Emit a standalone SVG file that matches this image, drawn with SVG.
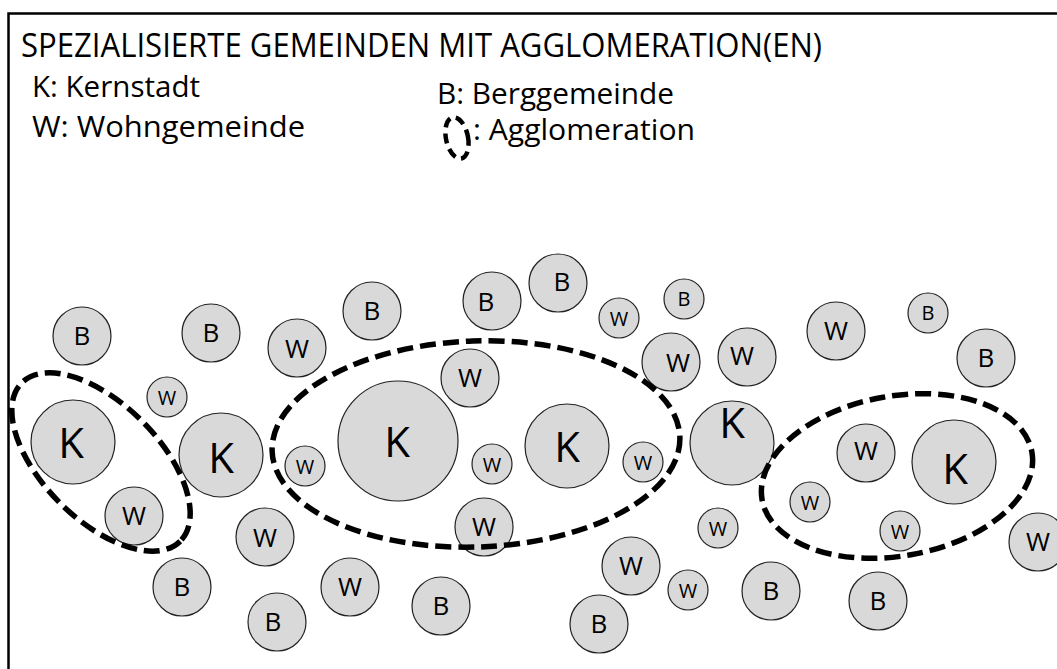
<svg xmlns="http://www.w3.org/2000/svg" width="1057" height="669" viewBox="0 0 1057 669">
<style>
text{font-family:"Open Sans","Liberation Sans",sans-serif;fill:#000;}
.n circle{fill:#d9d9d9;stroke:#222;stroke-width:1.2;}
.n text{text-anchor:middle;}
.k{font-size:42px;}
.m{font-size:26px;}
.s{font-size:20px;}
.agg{fill:none;stroke:#000;stroke-width:5.5;stroke-dasharray:16 7;}
</style>
<rect width="1057" height="669" fill="#fff"/>
<path d="M8.5,669 V13.5 H1057" fill="none" stroke="#000" stroke-width="2.5"/>
<g id="title"><text x="21" y="57" font-size="32" textLength="801" lengthAdjust="spacingAndGlyphs">SPEZIALISIERTE GEMEINDEN MIT AGGLOMERATION(EN)</text></g>
<g id="legend">
<text x="32" y="97" font-size="29" textLength="168" lengthAdjust="spacingAndGlyphs">K: Kernstadt</text>
<text x="32" y="137" font-size="29" textLength="273" lengthAdjust="spacingAndGlyphs">W: Wohngemeinde</text>
<text x="437" y="104" font-size="29" textLength="237" lengthAdjust="spacingAndGlyphs">B: Berggemeinde</text>
<ellipse cx="457" cy="138" rx="11" ry="21" transform="rotate(-12 457 138)" fill="none" stroke="#000" stroke-width="4.5" stroke-dasharray="10 6"/>
<text x="473" y="140" font-size="29" textLength="222" lengthAdjust="spacingAndGlyphs">: Agglomeration</text>
</g>
<g id="nodes">
<g id="B1" class="n"><circle cx="82" cy="336" r="29"/><text class="m" x="82" y="345">B</text></g>
<g id="B2" class="n"><circle cx="211" cy="333" r="29"/><text class="m" x="211" y="342">B</text></g>
<g id="W1" class="n"><circle cx="297" cy="348" r="29"/><text class="m" x="297" y="358">W</text></g>
<g id="B3" class="n"><circle cx="372" cy="311" r="29"/><text class="m" x="372" y="320">B</text></g>
<g id="B4" class="n"><circle cx="492" cy="301" r="29"/><text class="m" x="486" y="311">B</text></g>
<g id="B5" class="n"><circle cx="558" cy="283" r="29"/><text class="m" x="562" y="291">B</text></g>
<g id="W2s" class="n"><circle cx="619" cy="318" r="20"/><text class="s" x="619" y="326">W</text></g>
<g id="B6s" class="n"><circle cx="684" cy="299" r="20"/><text class="s" x="684" y="306">B</text></g>
<g id="W2" class="n"><circle cx="671" cy="362" r="29"/><text class="m" x="678" y="372">W</text></g>
<g id="W3" class="n"><circle cx="747" cy="357" r="29"/><text class="m" x="742" y="365">W</text></g>
<g id="W4" class="n"><circle cx="836" cy="331" r="29"/><text class="m" x="836" y="340">W</text></g>
<g id="B7s" class="n"><circle cx="928" cy="313" r="20"/><text class="s" x="928" y="320">B</text></g>
<g id="B8" class="n"><circle cx="986" cy="358" r="29"/><text class="m" x="986" y="367">B</text></g>
<g id="W3s" class="n"><circle cx="167" cy="397" r="20"/><text class="s" x="167" y="405">W</text></g>
<g id="W5" class="n"><circle cx="470" cy="378" r="29"/><text class="m" x="470" y="387">W</text></g>
<g id="K1" class="n"><circle cx="73" cy="442" r="42"/><text class="k" x="71" y="458">K</text></g>
<g id="K2" class="n"><circle cx="221" cy="455" r="42"/><text class="k" x="221" y="473">K</text></g>
<g id="W4s" class="n"><circle cx="305" cy="466" r="20"/><text class="s" x="305" y="474">W</text></g>
<g id="K3" class="n"><circle cx="398" cy="441" r="60"/><text class="k" x="397" y="457">K</text></g>
<g id="W5s" class="n"><circle cx="492" cy="464" r="20"/><text class="s" x="492" y="472">W</text></g>
<g id="K4" class="n"><circle cx="567" cy="446" r="42"/><text class="k" x="567" y="462">K</text></g>
<g id="W6s" class="n"><circle cx="643" cy="462" r="20"/><text class="s" x="643" y="470">W</text></g>
<g id="K5" class="n"><circle cx="732" cy="443" r="42"/><text class="k" x="732" y="438">K</text></g>
<g id="W6" class="n"><circle cx="866" cy="453" r="29"/><text class="m" x="866" y="460">W</text></g>
<g id="K6" class="n"><circle cx="954" cy="462" r="42"/><text class="k" x="955" y="484">K</text></g>
<g id="W7s" class="n"><circle cx="810" cy="502" r="20"/><text class="s" x="810" y="510">W</text></g>
<g id="W8s" class="n"><circle cx="900" cy="531" r="20"/><text class="s" x="900" y="539">W</text></g>
<g id="W9s" class="n"><circle cx="718" cy="528" r="20"/><text class="s" x="718" y="536">W</text></g>
<g id="W7" class="n"><circle cx="1038" cy="542" r="29"/><text class="m" x="1038" y="551">W</text></g>
<g id="W8" class="n"><circle cx="134" cy="516" r="29"/><text class="m" x="134" y="525">W</text></g>
<g id="W9" class="n"><circle cx="265" cy="537" r="29"/><text class="m" x="265" y="547">W</text></g>
<g id="W10" class="n"><circle cx="484" cy="527" r="29"/><text class="m" x="484" y="536">W</text></g>
<g id="W11" class="n"><circle cx="631" cy="566" r="29"/><text class="m" x="631" y="575">W</text></g>
<g id="W10s" class="n"><circle cx="688" cy="590" r="20"/><text class="s" x="688" y="598">W</text></g>
<g id="B9" class="n"><circle cx="182" cy="587" r="29"/><text class="m" x="182" y="596">B</text></g>
<g id="W12" class="n"><circle cx="350" cy="587" r="29"/><text class="m" x="350" y="596">W</text></g>
<g id="B10" class="n"><circle cx="441" cy="606" r="29"/><text class="m" x="441" y="615">B</text></g>
<g id="B11" class="n"><circle cx="277" cy="622" r="29"/><text class="m" x="273" y="631">B</text></g>
<g id="B12" class="n"><circle cx="599" cy="624" r="29"/><text class="m" x="599" y="633">B</text></g>
<g id="B13" class="n"><circle cx="771" cy="591" r="29"/><text class="m" x="771" y="600">B</text></g>
<g id="B14" class="n"><circle cx="878" cy="601" r="29"/><text class="m" x="878" y="610">B</text></g>
</g>
<g id="agglomerations">
<ellipse id="agg1" class="agg" cx="101" cy="462" rx="112" ry="58" transform="rotate(45 101 462)"/>
<ellipse id="agg2" class="agg" cx="476" cy="444" rx="204" ry="103" transform="rotate(-2 476 444)"/>
<ellipse id="agg3" class="agg" cx="897" cy="476" rx="137" ry="80" transform="rotate(-10 897 476)"/>
</g>
<g id="connectors"/>
</svg>
